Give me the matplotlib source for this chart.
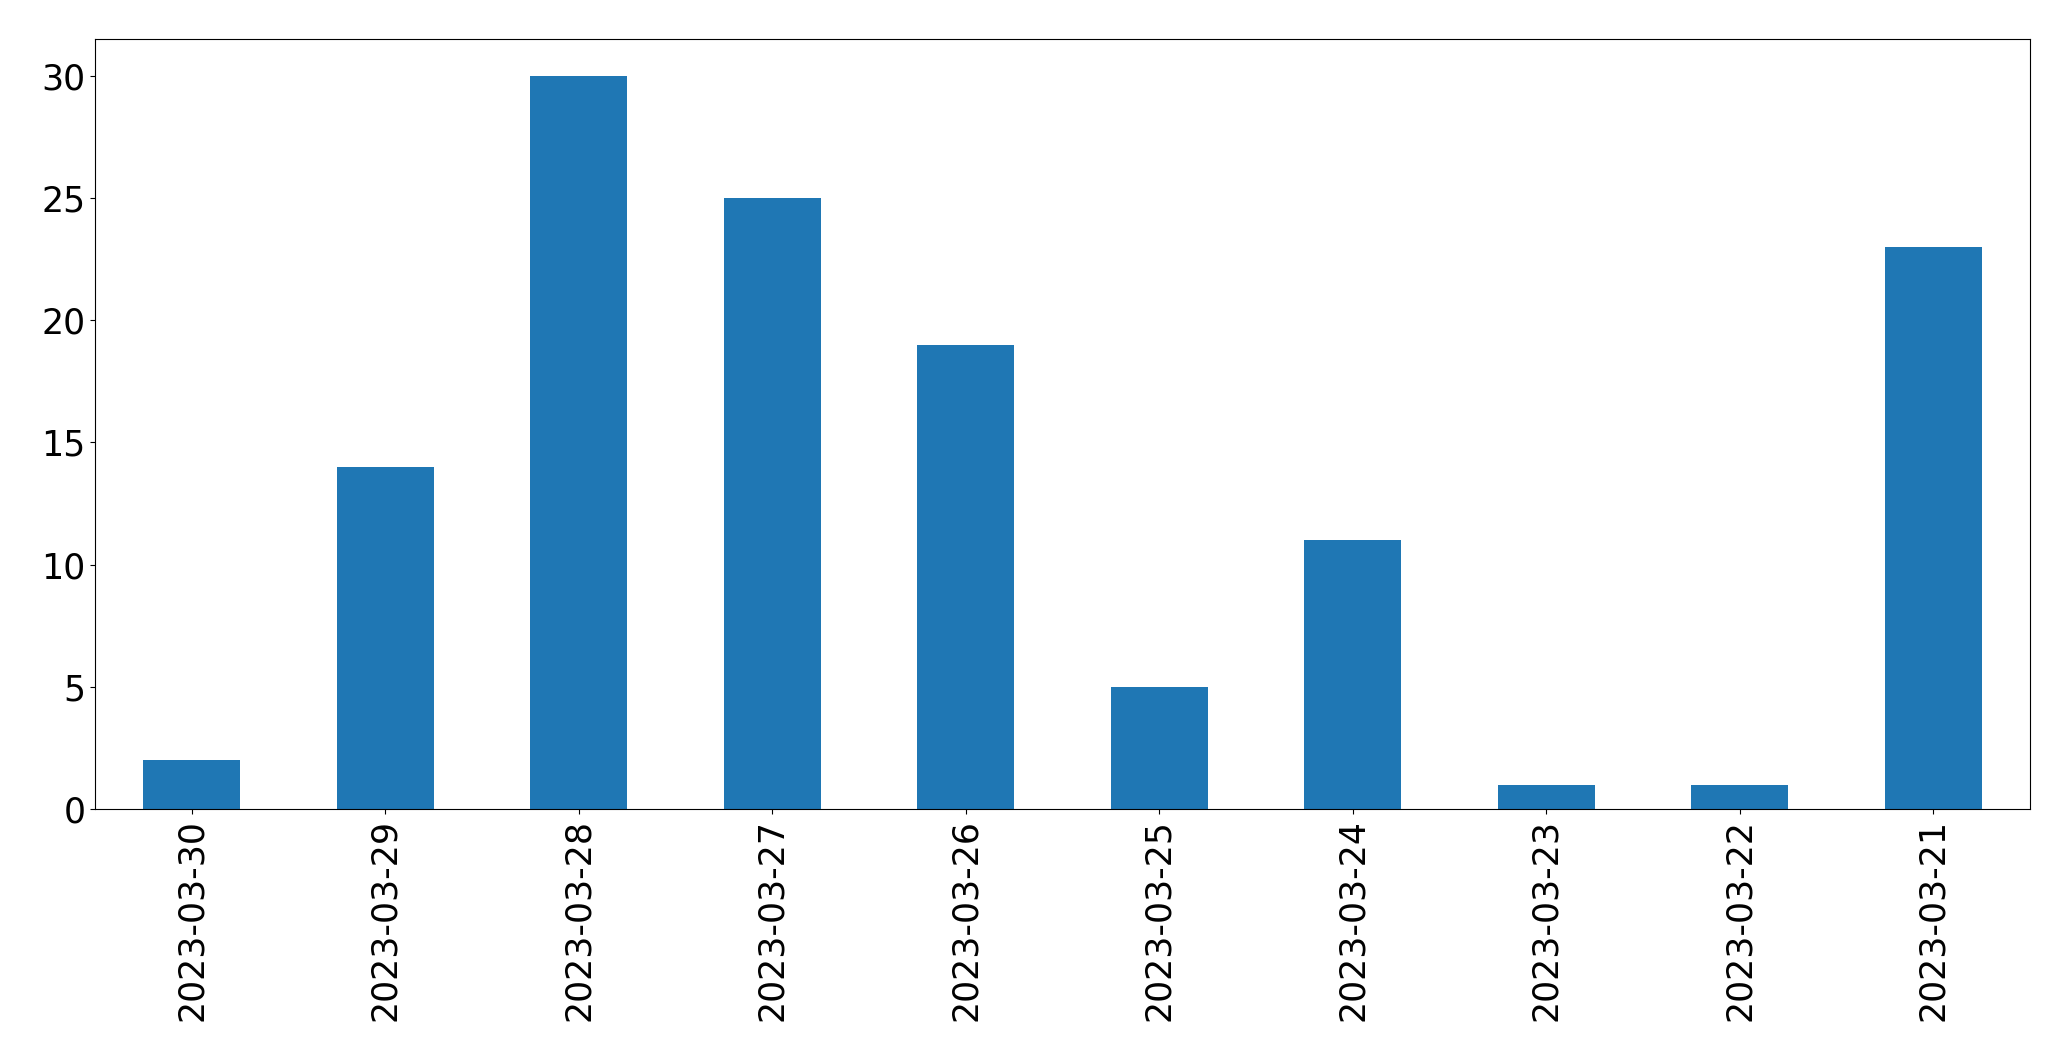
import matplotlib
matplotlib.use("Agg")
import matplotlib.pyplot as plt

# daily counts, newest first (as in the original)
dates = ['2023-03-30', '2023-03-29', '2023-03-28', '2023-03-27', '2023-03-26',
         '2023-03-25', '2023-03-24', '2023-03-23', '2023-03-22', '2023-03-21']
counts = [2, 14, 30, 25, 19, 5, 11, 1, 1, 23]

W, H = 2071, 1061
fig = plt.figure(figsize=(W / 100, H / 100), dpi=100)
ax = fig.add_axes([95 / W, (H - 809) / H, (2030 - 95) / W, (809 - 39) / H])

x = range(len(dates))
ax.bar(x, counts, width=0.5, color='#1f77b4')
ax.set_xlim(-0.5, len(dates) - 0.5)
ax.set_ylim(0, max(counts) * 1.05)
ax.set_xticks(list(x))
ax.set_xticklabels(dates, rotation=90)
ax.tick_params(axis='both', labelsize=25)

fig.savefig('out.png', dpi=100)
